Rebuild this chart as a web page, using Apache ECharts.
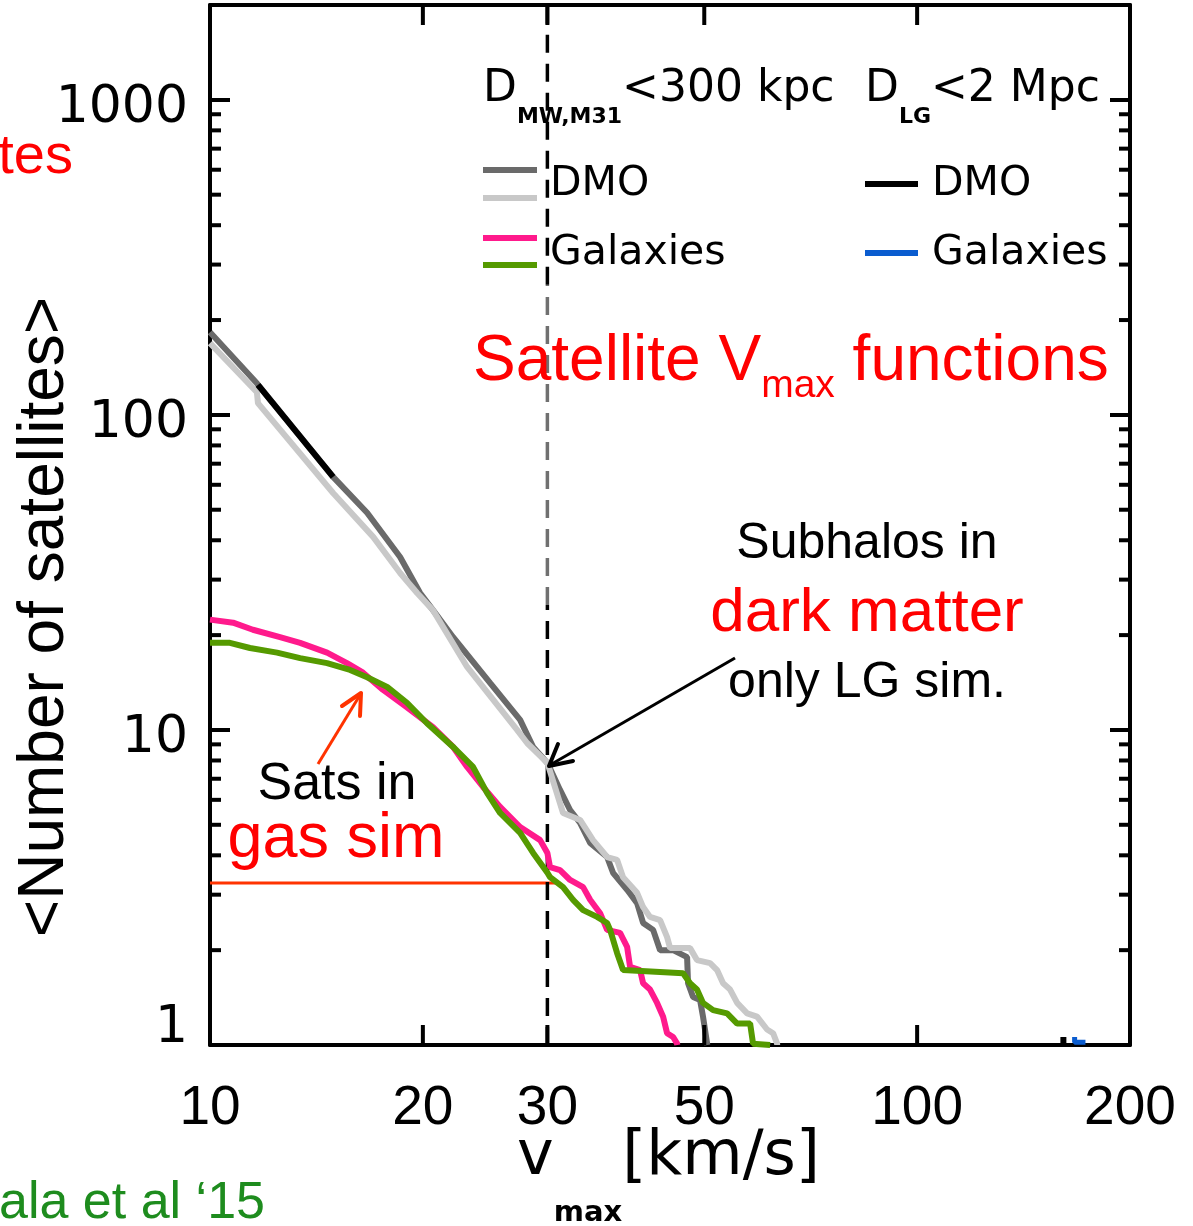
<!DOCTYPE html>
<html>
<head>
<meta charset="utf-8">
<script src="https://cdn.jsdelivr.net/npm/echarts@6/dist/echarts.min.js"></script>
<style>
  html, body { margin: 0; padding: 0; background: #fff; }
  #chart { width: 1193px; height: 1226px; }
</style>
</head>
<body>
<div id="chart"></div>
<script>
// Cumulative satellite V_max functions, N(>v_max), on log-log axes.
const V_MIN = 10, V_MAX = 200, N_MIN = 1, N_MAX = 2000;

// Axis ticks and labels
const xTickValues = [20, 30, 50, 100];
const xLabelValues = [10, 20, 30, 50, 100, 200];
const yMinorTickValues = [2, 3, 4, 5, 6, 7, 8, 9, 20, 30, 40, 50, 60, 70, 80, 90,
                          200, 300, 400, 500, 600, 700, 800, 900];

// DMO, D_MW,M31 < 300 kpc (first pair, dark grey)
const dmoAV = [10, 11.65, 14.93, 16.68, 18.57, 19.82, 20.67, 22.07, 24.89, 27.45, 28.64, 30.0,
               31.26, 32.30, 33.37, 34.48, 36.44, 37.15, 38.89, 40.18, 40.97, 42.33, 43.30, 45.18,
               47.28, 47.43, 48.21, 49.32, 49.80, 50.47, 50.5];
const dmoAN = [183, 126, 63.6, 48.9, 35.4, 27.2, 24.0, 19.7, 14.1, 10.76, 8.83, 7.86,
               6.45, 5.57, 5.07, 4.38, 3.95, 3.52, 3.11, 2.82, 2.44, 2.32, 2.00, 2.00,
               1.90, 1.57, 1.42, 1.39, 1.23, 1.01, 1.0];

// DMO, D_MW,M31 < 300 kpc (second pair, light grey)
const dmoBV = [10, 11.65, 11.69, 14.93, 17.01, 18.57, 19.63, 20.67, 23.10, 27.18, 28.08, 30.0,
               31.57, 33.37, 34.81, 36.44, 37.64, 38.38, 40.18, 40.97, 41.91, 43.30, 44.30, 44.74,
               47.74, 48.83, 50.96, 52.13, 53.16, 54.39, 55.65, 57.49, 59.38, 61.35, 62.56, 63.39, 63.4];
const dmoBN = [169, 118, 109, 56.5, 41.0, 31.5, 27.2, 24.0, 15.85, 10.0, 9.09, 7.86,
               5.45, 5.18, 4.47, 3.95, 3.87, 3.41, 3.04, 2.74, 2.55, 2.49, 2.20, 2.03,
               2.03, 1.86, 1.82, 1.73, 1.57, 1.50, 1.36, 1.26, 1.23, 1.12, 1.09, 1.01, 1.0];

// Galaxies, D_MW,M31 < 300 kpc (first pair, pink)
const galAV = [10, 10.78, 11.50, 12.56, 13.41, 14.64, 15.62, 16.46, 17.57, 18.99, 20.67, 22.07, 23.10,
               24.33, 25.72, 27.45, 29.30, 30.0, 30.26, 31.26, 32.30, 33.70, 34.48, 35.62, 36.44,
               38.01, 38.89, 39.27, 40.57, 40.97, 41.91, 42.88, 43.73, 44.30, 45.18, 45.77, 45.8];
const galAN = [22.4, 21.9, 20.8, 19.7, 18.9, 17.6, 16.3, 15.2, 13.4, 11.8, 10.2, 8.83, 7.63,
               6.59, 5.70, 4.92, 4.47, 4.07, 3.67, 3.59, 3.34, 3.17, 2.89, 2.62, 2.32,
               2.27, 2.05, 1.77, 1.73, 1.57, 1.50, 1.36, 1.23, 1.09, 1.06, 1.01, 1.0];

// Galaxies, D_MW,M31 < 300 kpc (second pair, green)
const galBV = [10, 10.67, 11.39, 12.44, 13.41, 14.64, 15.78, 16.68, 17.80, 18.99, 20.27, 22.07, 23.55,
               24.65, 25.72, 27.45, 28.64, 30.0, 30.26, 31.57, 32.62, 33.70, 35.27, 36.44, 36.80,
               37.64, 38.38, 46.67, 47.74, 48.83, 49.80, 51.46, 53.86, 55.65, 58.05, 58.61, 61.96];
const galBN = [18.9, 18.9, 18.2, 17.6, 16.9, 16.3, 15.5, 14.7, 13.7, 12.2, 10.5, 8.83, 7.63,
               6.31, 5.45, 4.71, 4.07, 3.52, 3.41, 3.17, 2.89, 2.68, 2.55, 2.44, 2.32,
               1.96, 1.73, 1.69, 1.57, 1.50, 1.36, 1.29, 1.26, 1.17, 1.17, 1.01, 1.0];

// D_LG < 2 Mpc: DMO (black) and galaxies (blue), visible pieces
const lgDmoV = [11.69, 14.93];
const lgDmoN = [124.5, 63.6];
const lgDmoTailV = [161, 161];
const lgDmoTailN = [1.06, 1.0];
const lgGalV = [167, 167, 173];
const lgGalN = [1.06, 1.02, 1.02];

// Reference cut at v_max = 30 km/s and the gas-sim count there
const cutV = 30;
const cutGreyN = [24.9, 259];
const gasCountN = 3.27;
const gasCountV = [10, 30.8];

const pairs = (v, n) => v.map((x, i) => [x, n[i]]);

const FONT_SANS = '"Liberation Sans", Arial, sans-serif';
const FONT_DJV = '"DejaVu Sans", sans-serif';
const MAJOR_LEN = 20, MINOR_LEN = 11;

function curve(name, data, color, width) {
  return {
    type: 'line', name, data, showSymbol: false, symbol: 'none',
    lineStyle: { color, width }, itemStyle: { color },
    silent: true, animation: false
  };
}

function dashed(name, data, color) {
  return {
    type: 'line', name, data, showSymbol: false, symbol: 'none',
    lineStyle: { color, width: 3.5, type: [18, 11] },
    silent: true, animation: false
  };
}

const chart = echarts.init(document.getElementById('chart'), null, { renderer: 'canvas' });

const axisLine = { show: true, onZero: false, lineStyle: { color: '#000', width: 4 } };

const option = {
  backgroundColor: '#fff',
  animation: false,
  grid: { left: 210, right: 63, top: 5, bottom: 181, containLabel: false },
  xAxis: [
    { type: 'log', logBase: 10, min: V_MIN, max: V_MAX, position: 'bottom',
      axisLine, axisTick: { show: false }, axisLabel: { show: false }, splitLine: { show: false } },
    { type: 'log', logBase: 10, min: V_MIN, max: V_MAX, position: 'top',
      axisLine, axisTick: { show: false }, axisLabel: { show: false }, splitLine: { show: false } }
  ],
  yAxis: [
    { type: 'log', logBase: 10, min: N_MIN, max: N_MAX, position: 'left',
      axisLine,
      axisTick: { show: true, inside: true, length: MAJOR_LEN, lineStyle: { color: '#000', width: 4 } },
      splitLine: { show: false },
      axisLabel: {
        show: true, showMaxLabel: false, margin: 22, color: '#000',
        fontSize: 52, fontFamily: 'DejaVu Sans',
        formatter: (v) => {
          const n = Math.round(v);
          return n === 1 ? '{low|1}' : '{std|' + n + '}';
        },
        rich: {
          std: { fontSize: 52, fontFamily: 'DejaVu Sans', color: '#000', padding: [18, 0, 0, 0] },
          low: { fontSize: 52, fontFamily: 'DejaVu Sans', color: '#000', padding: [0, 0, 34, 0] }
        }
      } },
    { type: 'log', logBase: 10, min: N_MIN, max: N_MAX, position: 'right',
      axisLine,
      axisTick: { show: true, inside: true, length: MAJOR_LEN, lineStyle: { color: '#000', width: 4 } },
      axisLabel: { show: false }, splitLine: { show: false } }
  ],
  series: [
    // x-axis major ticks (bottom and top)
    { type: 'custom', silent: true, animation: false, z: 5,
      data: xTickValues.map(v => [v, N_MIN]),
      renderItem: (params, api) => {
        const v = api.value(0);
        const b = api.coord([v, N_MIN]);
        const t = api.coord([v, N_MAX]);
        const st = { stroke: '#000', lineWidth: 4 };
        return { type: 'group', children: [
          { type: 'line', shape: { x1: b[0], y1: b[1], x2: b[0], y2: b[1] - MAJOR_LEN }, style: st },
          { type: 'line', shape: { x1: t[0], y1: t[1], x2: t[0], y2: t[1] + MAJOR_LEN }, style: st }
        ] };
      } },
    // y-axis minor ticks (left and right)
    { type: 'custom', silent: true, animation: false, z: 5,
      data: yMinorTickValues.map(n => [V_MIN, n]),
      renderItem: (params, api) => {
        const n = api.value(1);
        const l = api.coord([V_MIN, n]);
        const r = api.coord([V_MAX, n]);
        const st = { stroke: '#000', lineWidth: 4 };
        return { type: 'group', children: [
          { type: 'line', shape: { x1: l[0], y1: l[1], x2: l[0] + MINOR_LEN, y2: l[1] }, style: st },
          { type: 'line', shape: { x1: r[0], y1: r[1], x2: r[0] - MINOR_LEN, y2: r[1] }, style: st }
        ] };
      } },
    // x-axis tick labels
    { type: 'custom', silent: true, animation: false, z: 5,
      data: xLabelValues.map(v => [v, N_MIN]),
      renderItem: (params, api) => {
        const v = api.value(0);
        const p = api.coord([v, N_MIN]);
        return { type: 'text', x: p[0], y: p[1] + 64,
          style: { text: String(v), font: '55px ' + FONT_SANS,
                   fill: '#000', align: 'center', verticalAlign: 'middle' } };
      } },

    // gas-sim count at the cut
    { type: 'line', name: 'gas count', data: gasCountV.map(v => [v, gasCountN]),
      showSymbol: false, symbol: 'none', lineStyle: { color: '#ff3300', width: 3 },
      silent: true, animation: false },

    // vertical cut at v_max = 30 km/s
    dashed('cut low', [[cutV, N_MIN], [cutV, cutGreyN[0]]], '#000'),
    dashed('cut mid', [[cutV, cutGreyN[0]], [cutV, cutGreyN[1]]], '#707070'),
    dashed('cut high', [[cutV, cutGreyN[1]], [cutV, N_MAX]], '#000'),

    curve('DMO (MW,M31) A', pairs(dmoAV, dmoAN), '#6a6a6a', 6),
    curve('DMO (MW,M31) B', pairs(dmoBV, dmoBN), '#c8c8c8', 6),
    curve('Galaxies (MW,M31) A', pairs(galAV, galAN), '#ff1a8c', 6),
    curve('Galaxies (MW,M31) B', pairs(galBV, galBN), '#559a00', 6),
    curve('DMO (LG)', pairs(lgDmoV, lgDmoN), '#000', 6),
    curve('DMO (LG) tail', pairs(lgDmoTailV, lgDmoTailN), '#000', 6),
    curve('Galaxies (LG)', pairs(lgGalV, lgGalN), '#0a5ccf', 5)
  ],
  graphic: [
    // legend block
    { type: 'text', x: 483, y: 90, z: 10,
      style: { text: '{m|D}{s|MW,M31}{m|<300 kpc}', align: 'left', verticalAlign: 'middle',
        rich: {
          m: { font: '44px ' + FONT_DJV, fill: '#000', verticalAlign: 'middle' },
          s: { font: 'bold 22px ' + FONT_DJV, fill: '#000', verticalAlign: 'middle', padding: [55, 0, 0, 0] }
        } } },
    { type: 'text', x: 865, y: 90, z: 10,
      style: { text: '{m|D}{s|LG}{m|<2 Mpc}', align: 'left', verticalAlign: 'middle',
        rich: {
          m: { font: '44px ' + FONT_DJV, fill: '#000', verticalAlign: 'middle' },
          s: { font: 'bold 22px ' + FONT_DJV, fill: '#000', verticalAlign: 'middle', padding: [55, 0, 0, 0] }
        } } },
    { type: 'line', z: 10, shape: { x1: 483, y1: 170, x2: 537, y2: 170 }, style: { stroke: '#6a6a6a', lineWidth: 6 } },
    { type: 'line', z: 10, shape: { x1: 483, y1: 198, x2: 537, y2: 198 }, style: { stroke: '#c8c8c8', lineWidth: 6 } },
    { type: 'line', z: 10, shape: { x1: 483, y1: 238, x2: 537, y2: 238 }, style: { stroke: '#ff1a8c', lineWidth: 6 } },
    { type: 'line', z: 10, shape: { x1: 483, y1: 265, x2: 537, y2: 265 }, style: { stroke: '#559a00', lineWidth: 6 } },
    { type: 'line', z: 10, shape: { x1: 865, y1: 184, x2: 918, y2: 184 }, style: { stroke: '#000', lineWidth: 6 } },
    { type: 'line', z: 10, shape: { x1: 865, y1: 253, x2: 918, y2: 253 }, style: { stroke: '#0a5ccf', lineWidth: 6 } },
    { type: 'text', x: 550, y: 184, z: 10, style: { text: 'DMO', font: '41px ' + FONT_DJV, fill: '#000', align: 'left', verticalAlign: 'middle' } },
    { type: 'text', x: 550, y: 253, z: 10, style: { text: 'Galaxies', font: '41px ' + FONT_DJV, fill: '#000', align: 'left', verticalAlign: 'middle' } },
    { type: 'text', x: 932, y: 184, z: 10, style: { text: 'DMO', font: '41px ' + FONT_DJV, fill: '#000', align: 'left', verticalAlign: 'middle' } },
    { type: 'text', x: 932, y: 253, z: 10, style: { text: 'Galaxies', font: '41px ' + FONT_DJV, fill: '#000', align: 'left', verticalAlign: 'middle' } },

    // headline
    { type: 'text', x: 473, y: 362, z: 10,
      style: { text: '{m|Satellite V}{s|max}{m| functions}', align: 'left', verticalAlign: 'middle',
        rich: {
          m: { font: '64px ' + FONT_SANS, fill: '#ff0000', verticalAlign: 'middle' },
          s: { font: '39px ' + FONT_SANS, fill: '#ff0000', verticalAlign: 'middle', padding: [49, 0, 0, 0] }
        } } },

    // dark-matter-only annotation
    { type: 'text', x: 867, y: 544, z: 10, style: { text: 'Subhalos in', font: '50px ' + FONT_SANS, fill: '#000', align: 'center', verticalAlign: 'middle' } },
    { type: 'text', x: 867, y: 614, z: 10, style: { text: 'dark matter', font: '62px ' + FONT_SANS, fill: '#ff0000', align: 'center', verticalAlign: 'middle' } },
    { type: 'text', x: 867, y: 683, z: 10, style: { text: 'only LG sim.', font: '50px ' + FONT_SANS, fill: '#000', align: 'center', verticalAlign: 'middle' } },
    { type: 'line', z: 10, shape: { x1: 735, y1: 658, x2: 550, y2: 765 }, style: { stroke: '#000', lineWidth: 3 } },
    { type: 'polyline', z: 10, shape: { points: [[573, 761], [549, 766], [558, 744]] },
      style: { stroke: '#000', lineWidth: 4, fill: null, lineJoin: 'round', lineCap: 'round' } },

    // gas-sim annotation
    { type: 'text', x: 337, y: 785, z: 10, style: { text: 'Sats in', font: '52px ' + FONT_SANS, fill: '#000', align: 'center', verticalAlign: 'middle' } },
    { type: 'text', x: 336, y: 840, z: 10, style: { text: 'gas sim', font: '63px ' + FONT_SANS, fill: '#ff0000', align: 'center', verticalAlign: 'middle' } },
    { type: 'line', z: 10, shape: { x1: 318, y1: 764, x2: 360, y2: 695 }, style: { stroke: '#ff3300', lineWidth: 3 } },
    { type: 'polyline', z: 10, shape: { points: [[342, 706], [361, 693], [360, 716]] },
      style: { stroke: '#ff3300', lineWidth: 4, fill: null, lineJoin: 'round', lineCap: 'round' } },

    // axis titles
    { type: 'text', x: 45, y: 617, rotation: Math.PI / 2, z: 10,
      style: { text: '<Number of satellites>', font: '64px ' + FONT_SANS, fill: '#000', align: 'center', verticalAlign: 'middle' } },
    { type: 'text', x: 517, y: 1158, z: 10,
      style: { text: '{m|v}{s|max}{m|[km/s]}', align: 'left', verticalAlign: 'middle',
        rich: {
          m: { font: '62px ' + FONT_DJV, fill: '#000', verticalAlign: 'middle' },
          s: { font: 'bold 29px ' + FONT_DJV, fill: '#000', verticalAlign: 'middle', padding: [110, 0, 0, 0] }
        } } },

    // slide captions around the plot
    { type: 'text', x: 73, y: 158, z: 10, style: { text: 'Satellites', font: '56px ' + FONT_SANS, fill: '#ff0000', align: 'right', verticalAlign: 'middle' } },
    { type: 'text', x: 265, y: 1204, z: 10, style: { text: 'Sawala et al \u201815', font: '52px ' + FONT_SANS, fill: '#1e8c1e', align: 'right', verticalAlign: 'middle' } }
  ]
};

chart.setOption(option);
</script>
</body>
</html>
